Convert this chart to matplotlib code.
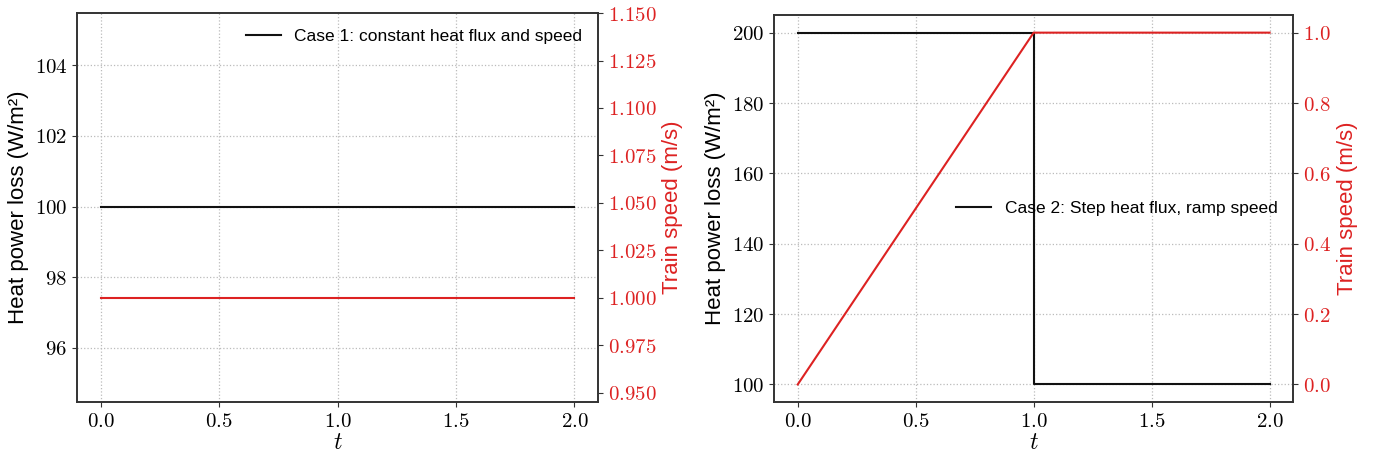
import matplotlib
matplotlib.use("Agg")
import matplotlib.pyplot as plt
from matplotlib.ticker import FormatStrFormatter, MultipleLocator

# case 1: constant heat flux and speed
t1 = [0.0, 2.0]
heat1 = [100, 100]
speed1 = [1.0, 1.0]

# case 2: step heat flux, ramp speed
t2_heat = [0.0, 1.0, 1.0, 2.0]
heat2 = [200, 200, 100, 100]
t2_speed = [0.0, 1.0, 2.0]
speed2 = [0.0, 1.0, 1.0]

labels = ["Case 1: constant heat flux and speed",
          "Case 2: Step heat flux, ramp speed"]
xticks = [0.0, 0.5, 1.0, 1.5, 2.0]

plt.rcParams['mathtext.fontset'] = 'cm'
plt.rcParams['font.family'] = ['Liberation Sans', 'DejaVu Sans']

red = '#dd2222'
spine_col = '#333333'

fig = plt.figure(figsize=(13.75, 4.59), dpi=100)
ax1 = fig.add_axes([0.056, 0.124, 0.379, 0.8475])
ax2 = fig.add_axes([0.563, 0.124, 0.3775, 0.8432])


def style(ax, twin, right_fmt):
    for a in (ax, twin):
        for s in a.spines.values():
            s.set_color(spine_col)
            s.set_linewidth(1.2)
    ax.grid(True, linestyle=':', color='#bbbbbb', linewidth=0.9)
    ax.set_xticks(xticks)
    ax.xaxis.set_major_formatter(FormatStrFormatter('$%.1f$'))
    ax.yaxis.set_major_formatter(FormatStrFormatter('$%d$'))
    twin.yaxis.set_major_formatter(FormatStrFormatter(right_fmt))
    ax.tick_params(labelsize=15, color=spine_col)
    twin.tick_params(labelsize=15, labelcolor=red, color=spine_col)
    ax.set_xlabel('$t$', fontsize=17, labelpad=1)
    ax.set_ylabel('Heat power loss (W/m²)', fontsize=16)
    twin.set_ylabel('Train speed (m/s)', fontsize=16, color=red)


ax1.plot(t1, heat1, color='#111111', lw=1.5, label=labels[0])
tw1 = ax1.twinx()
tw1.plot(t1, speed1, color=red, lw=1.5)
tw1.set_ylim(0.945, 1.15)
tw1.yaxis.set_major_locator(MultipleLocator(0.025))
ax1.set_ylim(94.47, 105.47)
style(ax1, tw1, '$%.3f$')
ax1.legend(loc='upper right', frameon=False, fontsize=12.5)

ax2.plot(t2_heat, heat2, color='#111111', lw=1.5, label=labels[1])
tw2 = ax2.twinx()
tw2.plot(t2_speed, speed2, color=red, lw=1.5)
style(ax2, tw2, '$%.1f$')
ax2.legend(loc='center right', frameon=False, fontsize=12.5)

fig.savefig('out.png', dpi=100)
